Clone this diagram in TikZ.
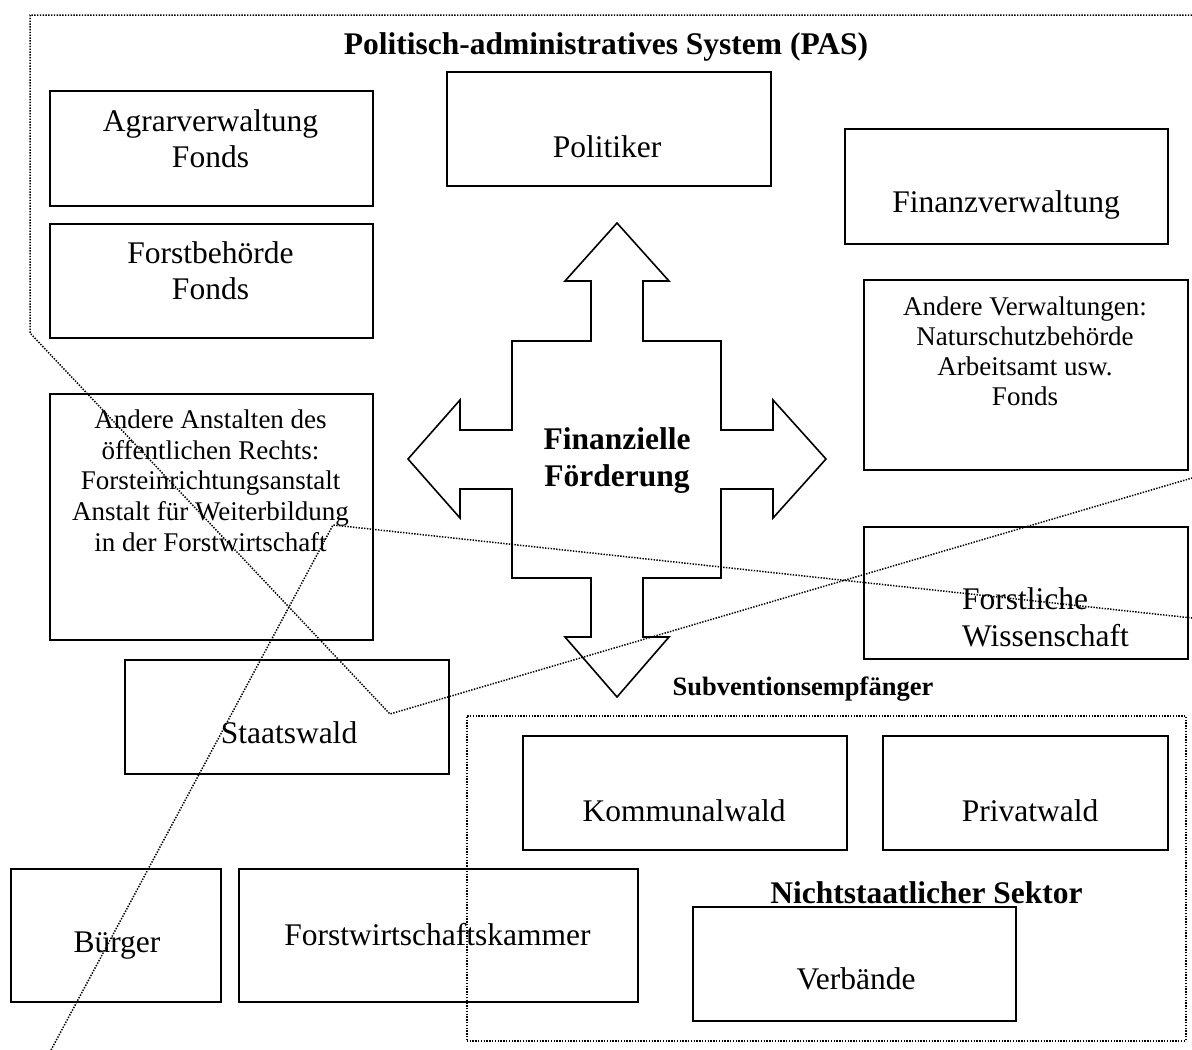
\documentclass[tikz,border=0pt]{standalone}
\usepackage{fontspec}
\setmainfont{Liberation Serif}
\begin{document}
\begin{tikzpicture}[x=1pt,y=-1pt]
\tikzset{
  box/.style={draw, line width=1.8pt, inner sep=0pt, anchor=north west},
  frame/.style={draw, line width=1.5pt, dash pattern=on 1.4pt off 1.4pt, inner sep=0pt, anchor=north west},
  big/.style={font=\fontsize{31.5}{36}\selectfont, inner sep=0pt, anchor=base},
  small/.style={font=\fontsize{27}{31}\selectfont, inner sep=0pt, anchor=base},
  bigbold/.style={font=\bfseries\fontsize{31.5}{36}\selectfont, inner sep=0pt, anchor=base},
  midbold/.style={font=\bfseries\fontsize{26.5}{30}\selectfont, inner sep=0pt, anchor=base},
  border/.style={line width=1.5pt, dash pattern=on 1.4pt off 1.4pt},
  cross/.style={line width=1.6pt, line join=miter}
}
\newcommand\mkbox[5]{\node[box, minimum width={#4-#2}, minimum height={#5-#3}] (#1) at (#2,#3) {};}
\useasboundingbox (0,0) rectangle (1192,1050);

% boundary of the politico-administrative system
\coordinate (pasR) at (1192,15);
\coordinate (pasTL) at (30,15);
\coordinate (pasL) at (30,333);
\coordinate (pasV) at (390,714);
\coordinate (pasE) at (1192,478);
\draw[border] (pasR) -- (pasTL) -- (pasL) -- (pasV) -- (pasE);

% boundary of the forestry sector
\coordinate (fsB) at (51,1050);
\coordinate (fsK) at (333,525);
\coordinate (fsE) at (1192,618);
\draw[border] (fsB) -- (fsK) -- (fsE);

% title
\node[bigbold] (title) at (606,54) {Politisch-administratives System (PAS)};

% left column
\mkbox{agrar}{49}{90}{372}{205}
\node[big] (agrar-a) at (210.5,131) {Agrarverwaltung};
\node[big] (agrar-b) at (210.5,167) {Fonds};

\mkbox{forstb}{49}{223}{372}{337}
\node[big] (forstb-a) at (210.5,263) {Forstbehörde};
\node[big] (forstb-b) at (210.5,299) {Fonds};

\mkbox{anst}{49}{393}{372}{639}
\node[small] (anst-a) at (210.5,428) {Andere Anstalten des};
\node[small] (anst-b) at (210.5,459) {öffentlichen Rechts:};
\node[small] (anst-c) at (210.5,489.5) {Forsteinrichtungsanstalt};
\node[small] (anst-d) at (210.5,520) {Anstalt für Weiterbildung};
\node[small] (anst-e) at (210.5,551) {in der Forstwirtschaft};

\mkbox{staat}{124}{659}{448}{773}
\node[big] (staat-t) at (289,743) {Staatswald};

\mkbox{buerger}{10}{868}{220}{1001}
\node[big] (buerger-t) at (117,952) {Bürger};

\mkbox{fwk}{238}{868}{637}{1001}
\node[big] (fwk-t) at (437.5,945) {Forstwirtschaftskammer};

% centre column
\mkbox{pol}{446}{71}{770}{185}
\node[big] (pol-t) at (607,157) {Politiker};

% right column
\mkbox{finanz}{844}{128}{1167}{243}
\node[big] (finanz-t) at (1006,212) {Finanzverwaltung};

\mkbox{andere}{863}{279}{1187}{469}
\node[small] (andere-a) at (1025,315) {Andere Verwaltungen:};
\node[small] (andere-b) at (1025,345) {Naturschutzbehörde};
\node[small] (andere-c) at (1025,375) {Arbeitsamt usw.};
\node[small] (andere-d) at (1025,405.5) {Fonds};

\mkbox{wiss}{863}{526}{1187}{658}
\node[big, anchor=base west] (wiss-a) at (962,609) {Forstliche};
\node[big, anchor=base west] (wiss-b) at (962,646) {Wissenschaft};

% four-headed arrow of financial support
\draw[cross] (617,223) -- (669,281) -- (643,281) -- (643,341) -- (721,341)
  -- (721,430) -- (773,430) -- (773,400) -- (826,459) -- (773,518) -- (773,489)
  -- (721,489) -- (721,578) -- (643,578) -- (643,637) -- (669,637) -- (617,697)
  -- (565,637) -- (591,637) -- (591,578) -- (512,578) -- (512,489) -- (460,489)
  -- (460,518) -- (408,459) -- (460,400) -- (460,430) -- (512,430) -- (512,341)
  -- (591,341) -- (591,281) -- (565,281) -- cycle;
\node[bigbold] (ff-a) at (617,449) {Finanzielle};
\node[bigbold] (ff-b) at (617,486) {Förderung};

% subsidy recipients
\node[midbold] (subv) at (803,695) {Subventionsempfänger};
\node[frame, minimum width=719, minimum height=325] (sektor) at (466,715) {};

\mkbox{kommunal}{522}{735}{846}{849}
\node[big] (kommunal-t) at (684,821) {Kommunalwald};

\mkbox{privat}{882}{735}{1167}{849}
\node[big] (privat-t) at (1030,821) {Privatwald};

\node[bigbold] (sektor-t) at (926.5,903) {Nichtstaatlicher Sektor};

\mkbox{verb}{692}{906}{1015}{1020}
\node[big] (verb-t) at (856,989) {Verbände};
\end{tikzpicture}
\end{document}
